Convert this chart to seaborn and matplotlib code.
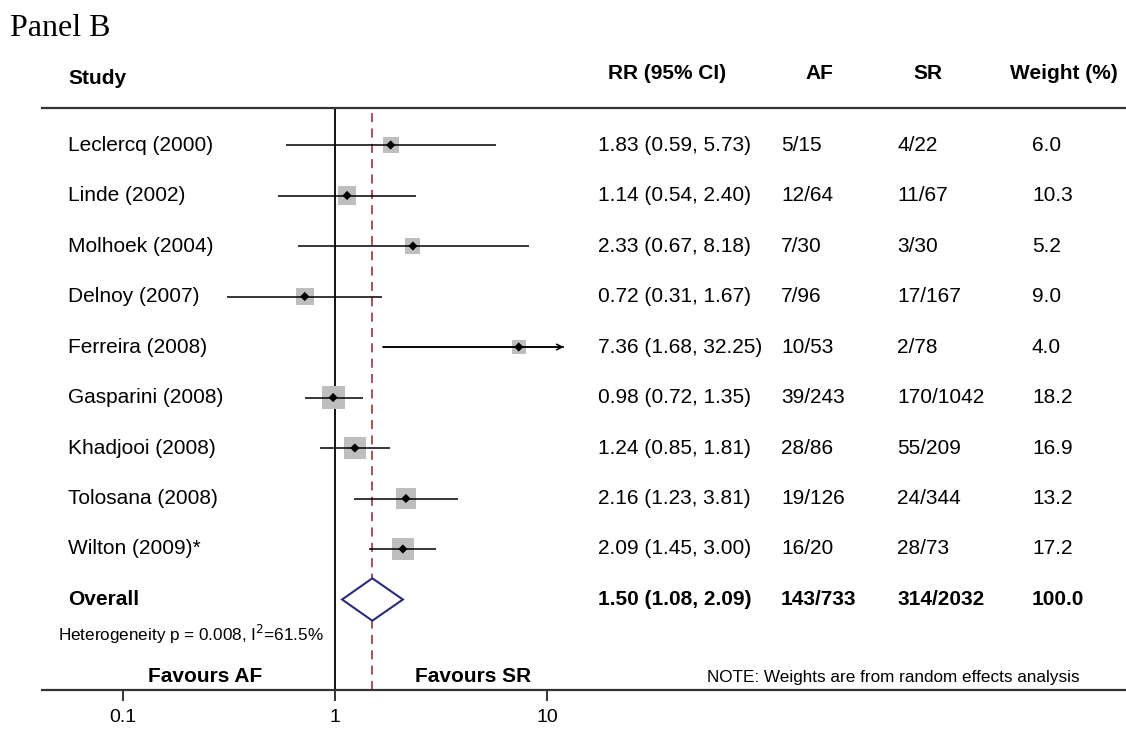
import numpy as np
import pandas as pd
import matplotlib
matplotlib.use("Agg")
import matplotlib.pyplot as plt
import matplotlib.transforms as mtransforms
import seaborn as sns

# Study-level data
studies = ["Leclercq (2000)", "Linde (2002)", "Molhoek (2004)", "Delnoy (2007)",
           "Ferreira (2008)", "Gasparini (2008)", "Khadjooi (2008)",
           "Tolosana (2008)", "Wilton (2009)*"]
rr = [1.83, 1.14, 2.33, 0.72, 7.36, 0.98, 1.24, 2.16, 2.09]
lo = [0.59, 0.54, 0.67, 0.31, 1.68, 0.72, 0.85, 1.23, 1.45]
hi = [5.73, 2.40, 8.18, 1.67, 32.25, 1.35, 1.81, 3.81, 3.00]
af = ["5/15", "12/64", "7/30", "7/96", "10/53", "39/243", "28/86", "19/126", "16/20"]
sr = ["4/22", "11/67", "3/30", "17/167", "2/78", "170/1042", "55/209", "24/344", "28/73"]
weight = [6.0, 10.3, 5.2, 9.0, 4.0, 18.2, 16.9, 13.2, 17.2]

# Pooled estimate
overall_rr, overall_lo, overall_hi = 1.50, 1.08, 2.09
overall_af, overall_sr, overall_w = "143/733", "314/2032", "100.0"
heterogeneity = "Heterogeneity p = 0.008, I$^2$=61.5%"
ticks = [0.1, 1, 10]
tick_labels = ["0.1", "1", "10"]

W, H = 1126, 740
sns.set_theme(style="white")
plt.rcParams["font.family"] = ["Liberation Sans", "DejaVu Sans"]
plt.rcParams["text.color"] = "black"
plt.rcParams["xtick.color"] = "black"
plt.rcParams["xtick.labelcolor"] = "black"

fig = plt.figure(figsize=(W / 100, H / 100), dpi=100)
ax = fig.add_axes([42 / W, (H - 690) / H, (W - 42) / W, (690 - 108) / H])

def px(x):
    return x / W

n = len(studies)
rows = np.arange(n)
row0, step = 145, 50.5
ax.set_ylim((690 - row0) / step, (108 - row0) / step)
ax.set_xscale("log")
ax.set_xlim(10 ** ((42 - 335) / 212), 10 ** ((W - 335) / 212))

df = pd.DataFrame({"study": studies, "rr": rr, "lo": lo, "hi": hi,
                   "weight": weight, "row": rows})
# box area grows with weight
df["area"] = (110 + 23 * df["weight"]) * 0.72 ** 2

clip_hi = 12
ax.hlines(df["row"], df["lo"], np.minimum(df["hi"], clip_hi), color="black", lw=1.1, zorder=2)
for _, r in df[df["hi"] > clip_hi].iterrows():
    ax.annotate("", xy=(clip_hi, r["row"]), xytext=(r["lo"], r["row"]),
                arrowprops=dict(arrowstyle="->", color="black", lw=1.1,
                                shrinkA=0, shrinkB=0, mutation_scale=10), zorder=2)

sns.scatterplot(data=df, x="rr", y="row", size="area",
                sizes=(df["area"].min(), df["area"].max()),
                size_norm=(df["area"].min(), df["area"].max()),
                marker="s", color="#BEBEBE", edgecolor="none", legend=False,
                ax=ax, zorder=1)
sns.scatterplot(data=df, x="rr", y="row", marker="D", color="black", s=22,
                edgecolor="none", legend=False, ax=ax, zorder=3)

# reference lines
ax.axvline(1, color="black", lw=1.3, zorder=0)
ax.axvline(overall_rr, color="#A2434E", lw=1.3, ls=(0, (5, 3.5)), zorder=0)

# overall diamond
yo = n
hh = 0.42
ax.fill([overall_lo, overall_rr, overall_hi, overall_rr, overall_lo],
        [yo, yo - hh, yo, yo + hh, yo], facecolor="white",
        edgecolor="#2A2C78", lw=1.5, zorder=3)

# axes styling
for s in ["left", "right"]:
    ax.spines[s].set_visible(False)
for s in ["top", "bottom"]:
    ax.spines[s].set_color("#333333")
    ax.spines[s].set_linewidth(1.6)
ax.set_yticks([])
ax.set_xticks(ticks)
ax.set_xticklabels(tick_labels, fontsize=14)
ax.xaxis.set_minor_locator(matplotlib.ticker.NullLocator())
ax.tick_params(axis="x", direction="out", length=8, width=1.4, color="#333333",
               pad=6, bottom=True)
ax.set_xlabel("")
ax.set_ylabel("")
ax.grid(False)

tr = mtransforms.blended_transform_factory(fig.transFigure, ax.transData)
fs = 15

def txt(x, y, s, **kw):
    kw.setdefault("fontsize", fs)
    ax.text(px(x), y, s, transform=tr, va="center", clip_on=False, **kw)

# header
hy = (73 - row0) / step
txt(68, (78 - row0) / step, "Study", fontweight="bold")
txt(608, hy, "RR (95% CI)", fontweight="bold")
txt(805, hy, "AF", fontweight="bold")
txt(913, hy, "SR", fontweight="bold")
txt(1010, hy, "Weight (%)", fontweight="bold")

for i in range(n):
    txt(68, i, studies[i])
    txt(598, i, f"{rr[i]:.2f} ({lo[i]:.2f}, {hi[i]:.2f})")
    txt(781, i, af[i])
    txt(897, i, sr[i])
    txt(1032, i, f"{weight[i]:.1f}")

txt(68, n, "Overall", fontweight="bold")
txt(598, n, f"{overall_rr:.2f} ({overall_lo:.2f}, {overall_hi:.2f})", fontweight="bold")
txt(781, n, overall_af, fontweight="bold")
txt(897, n, overall_sr, fontweight="bold")
txt(1032, n, overall_w, fontweight="bold")

txt(58, (634 - row0) / step, heterogeneity, fontsize=12.3)
txt(205, (676 - row0) / step, "Favours AF", fontweight="bold", ha="center")
txt(473, (676 - row0) / step, "Favours SR", fontweight="bold", ha="center")
txt(893, (677 - row0) / step, "NOTE: Weights are from random effects analysis",
    fontsize=12.3, ha="center")

fig.text(px(10), 1 - 29 / H, "Panel B", fontsize=23, family="Liberation Serif",
         va="center", ha="left")

fig.savefig("out.png", dpi=100, facecolor="white")
